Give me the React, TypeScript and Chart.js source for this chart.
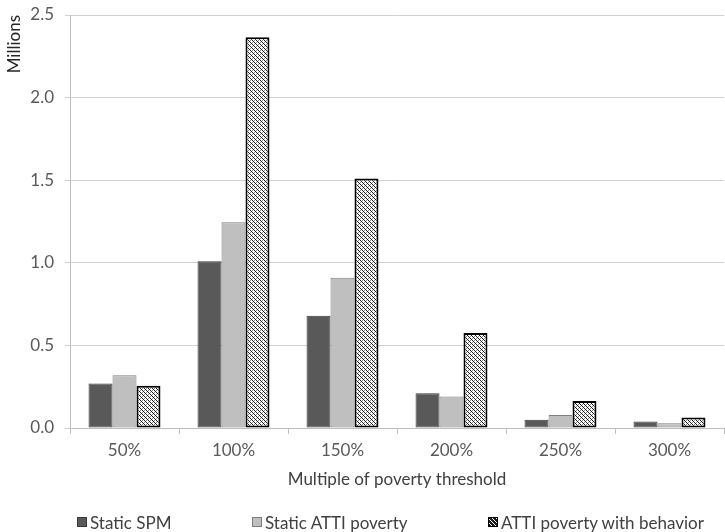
import React, { useEffect, useRef } from "react";
import { Chart, registerables } from "chart.js";

Chart.register(...registerables);

// Poverty-threshold multiples on the category axis
const categories = ["50%", "100%", "150%", "200%", "250%", "300%"];

// Counts in millions
const staticSpm = [0.27, 1.01, 0.68, 0.21, 0.05, 0.04];
const staticAtti = [0.32, 1.245, 0.91, 0.19, 0.078, 0.028];
const attiBehavior = [0.256, 2.365, 1.51, 0.575, 0.163, 0.063];

const seriesNames = ["Static SPM", "Static ATTI poverty", "ATTI poverty with behavior"];

const yMax = 2.5;
const yStep = 0.5;

const FONT = "Lato, 'Liberation Sans', sans-serif";

// Diagonal hatch fill used for the behavioral series
function makeHatch(): CanvasPattern | string {
  const c = document.createElement("canvas");
  c.width = 8;
  c.height = 8;
  const g = c.getContext("2d");
  if (!g) return "#ffffff";
  g.fillStyle = "#ffffff";
  g.fillRect(0, 0, 8, 8);
  g.fillStyle = "#1c1c1c";
  for (let i = 0; i < 8; i++) {
    g.fillRect(i, i, 1, 1);
    g.fillRect(i, (i + 4) % 8, 1, 1);
  }
  g.fillStyle = "#8a8a8a";
  for (let i = 0; i < 8; i += 2) {
    g.fillRect(i, (i + 2) % 8, 1, 1);
    g.fillRect(i, (i + 6) % 8, 1, 1);
  }
  return g.createPattern(c, "repeat") || "#ffffff";
}

const swatchStyles: React.CSSProperties[] = [
  { background: "#595959", border: "1px solid #3a3a3a" },
  { background: "#bfbfbf", border: "1px solid #7f7f7f" },
  {
    background:
      "repeating-linear-gradient(45deg, #1c1c1c 0px, #1c1c1c 1.6px, #ffffff 1.6px, #ffffff 2.8px)",
    border: "1px solid #000000",
  },
];
const legendLefts = [77, 252, 488];

export default function App() {
  const canvasRef = useRef<HTMLCanvasElement | null>(null);

  useEffect(() => {
    const canvas = canvasRef.current;
    if (!canvas) return;
    const hatch = makeHatch();

    const chart = new Chart(canvas, {
      type: "bar",
      data: {
        labels: categories,
        datasets: [
          {
            label: seriesNames[0],
            data: staticSpm,
            backgroundColor: "#595959",
            borderColor: "#3a3a3a",
            borderWidth: 1,
            borderSkipped: false,
            categoryPercentage: 0.66,
            barPercentage: 1,
          },
          {
            label: seriesNames[1],
            data: staticAtti,
            backgroundColor: "#bfbfbf",
            borderColor: "#7f7f7f",
            borderWidth: 1,
            borderSkipped: false,
            categoryPercentage: 0.66,
            barPercentage: 1,
          },
          {
            label: seriesNames[2],
            data: attiBehavior,
            backgroundColor: hatch as any,
            borderColor: "#000000",
            borderWidth: 2,
            borderSkipped: false,
            categoryPercentage: 0.66,
            barPercentage: 1,
          },
        ],
      },
      options: {
        animation: false,
        responsive: false,
        devicePixelRatio: 1,
        layout: { padding: { top: 15, right: 1, bottom: 38, left: 0 } },
        plugins: {
          legend: { display: false },
          tooltip: { enabled: false },
        },
        scales: {
          x: {
            type: "category",
            offset: true,
            grid: {
              display: true,
              drawOnChartArea: false,
              drawTicks: true,
              tickLength: 6,
              color: "#bfbfbf",
              offset: true,
            },
            border: { color: "#bfbfbf" },
            ticks: {
              color: "#595959",
              font: { family: FONT, size: 17 },
              padding: 6,
              maxRotation: 0,
            },
            title: {
              display: true,
              text: "Multiple of poverty threshold",
              color: "#404040",
              font: { family: FONT, size: 17 },
              padding: { top: 4, bottom: 4 },
            },
            afterFit(scale: any) {
              scale.height = 66;
            },
          },
          y: {
            min: 0,
            max: yMax,
            ticks: {
              stepSize: yStep,
              callback: (v: any) => Number(v).toFixed(1),
              color: "#595959",
              font: { family: FONT, size: 17 },
              padding: 11,
            },
            grid: {
              color: "#d0d0d0",
              drawTicks: true,
              tickLength: 5,
            },
            border: { color: "#bfbfbf" },
            title: {
              display: true,
              text: "Millions",
              align: "end",
              color: "#262626",
              font: { family: FONT, size: 17 },
              padding: { top: 4, bottom: 0 },
            },
            afterFit(scale: any) {
              scale.width = 70;
              // keep the tick-label padding from pushing the plot down
              scale.paddingTop = 4;
              scale.paddingBottom = 4;
            },
          },
        },
      },
    });

    return () => chart.destroy();
  }, []);

  return (
    <div style={{ position: "absolute", left: 0, top: 0, width: 725, height: 532, background: "#ffffff" }}>
      <canvas ref={canvasRef} width={725} height={532} style={{ display: "block" }} />
      {seriesNames.map((name, i) => (
        <div
          key={name}
          style={{
            position: "absolute",
            left: legendLefts[i],
            top: 512,
            height: 20,
            display: "flex",
            alignItems: "center",
            fontFamily: FONT,
            fontSize: 17,
            color: "#404040",
            whiteSpace: "nowrap",
          }}
        >
          <span
            style={{
              display: "inline-block",
              width: 10,
              height: 10,
              boxSizing: "border-box",
              marginRight: 3,
              ...swatchStyles[i],
            }}
          />
          <span>{name}</span>
        </div>
      ))}
    </div>
  );
}
